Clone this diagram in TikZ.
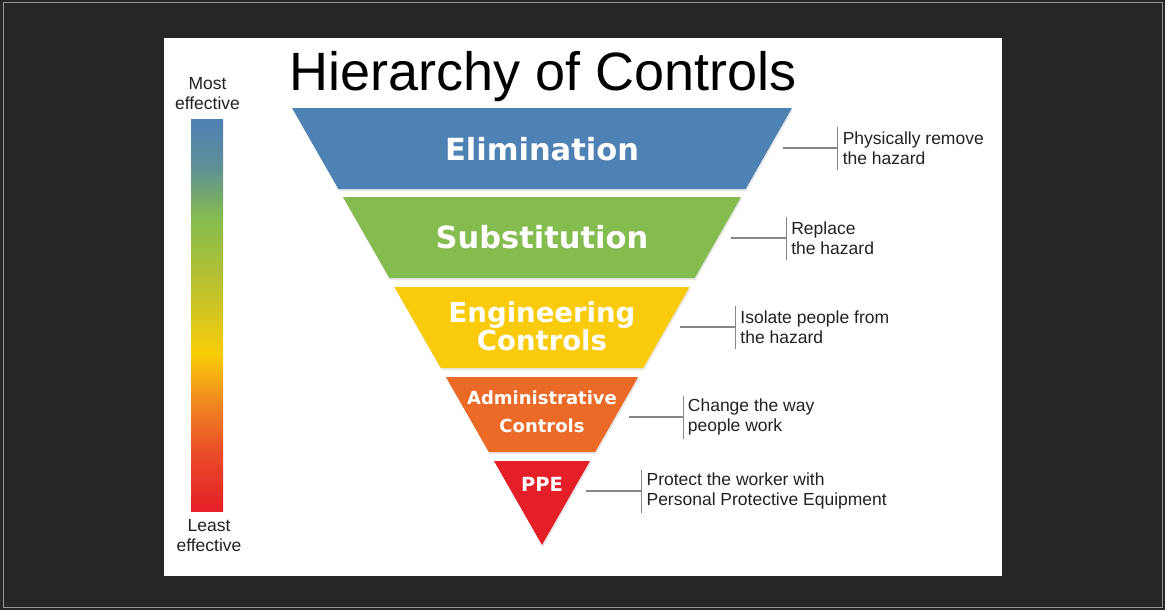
\documentclass[tikz,border=0pt]{standalone}
\usepackage{fontspec}
\setmainfont{Liberation Sans}
\newfontfamily\bandfont{DejaVu Sans}
\usetikzlibrary{shadows}
\definecolor{framedark}{RGB}{38,38,38}
\definecolor{framegrey}{RGB}{150,150,150}
\definecolor{elimblue}{RGB}{78,129,180}
\definecolor{substgreen}{RGB}{132,188,80}
\definecolor{enggold}{RGB}{249,203,10}
\definecolor{adminorange}{RGB}{235,106,40}
\definecolor{ppered}{RGB}{229,31,39}
\definecolor{barteal}{RGB}{95,143,149}
\definecolor{barolive}{RGB}{196,194,42}
\definecolor{baryellow}{RGB}{249,205,8}
\definecolor{barorange}{RGB}{240,138,32}
\definecolor{barred}{RGB}{234,76,42}
\definecolor{guidegrey}{RGB}{135,135,135}
\definecolor{inkgrey}{RGB}{34,34,34}
\pgfdeclareverticalshading{effbar}{100bp}{color(0bp)=(ppered); color(25bp)=(ppered); color(32.5bp)=(barred); color(39bp)=(barorange); color(45bp)=(baryellow); color(52.5bp)=(barolive); color(62.5bp)=(substgreen); color(69bp)=(barteal); color(75bp)=(elimblue); color(100bp)=(elimblue)}
\tikzset{
    band/.style={drop shadow={opacity=0.18, shadow xshift=1pt, shadow yshift=-2pt}},
    bandtext/.style={text=white, align=center, inner sep=0pt, font=\bandfont\bfseries\fontsize{#1}{28}\selectfont},
    note/.style={anchor=west, align=left, inner sep=0pt, text=inkgrey, font=\fontsize{17.5}{20.5}\selectfont},
    sidenote/.style={align=center, inner sep=0pt, text=inkgrey, font=\fontsize{17.5}{20}\selectfont},
    guide/.style={draw=guidegrey, line width=1.2pt}
}
\begin{document}
\begin{tikzpicture}[x=1pt, y=-1pt]
                    \useasboundingbox (0,0) rectangle (1165,610);
                    \fill[framedark] (0,0) rectangle (1165,610);
                    \draw[framegrey, line width=1pt] (3,3) rectangle (1162,607);
                    \fill[white] (164,38) rectangle (1002,576);

                    \node[anchor=base west, inner sep=0pt, font=\fontsize{54}{60}\selectfont] (title) at (289,90) {Hierarchy of Controls};

                    \shade[shading=effbar] (191,119) rectangle (223,511);
                    \node[sidenote] (most)  at (207.5,94) {Most\\effective};
                    \node[sidenote] (least) at (209,536)  {Least\\effective};

                    \foreach \nm/\yt/\yb/\col in {elim/108/189/elimblue, subst/197/278/substgreen, eng/287/368/enggold, admin/377/452/adminorange}
                        \fill[band, \col] ({542-0.572*(545-\yt)},\yt) -- ({542+0.572*(545-\yt)},\yt)
                            -- ({542+0.572*(545-\yb)},\yb) -- ({542-0.572*(545-\yb)},\yb) -- cycle;
                    \fill[band, ppered] (494,461) -- (590,461) -- (542,545) -- cycle;

                    \node[bandtext=30.5] (elim)  at (542,149) {Elimination};
                    \node[bandtext=30.5] (subst) at (542,237) {Substitution};
                    \node[bandtext=27.5] (eng)   at (542,326) {Engineering\\Controls};
                    \node[bandtext=18]   (admin) at (542,411.5) {Administrative\\Controls};
                    \node[bandtext=19.5] (ppe)   at (542,484.5) {PPE};

                    \foreach \nm/\ly in {elim/148, subst/238, eng/327, admin/417, ppe/491} {
                        \coordinate (\nm-a) at ({542+0.572*(545-\ly)+13.5},\ly);
                        \coordinate (\nm-b) at ({542+0.572*(545-\ly)+68.5},\ly);
                        \draw[guide] (\nm-a) -- (\nm-b);
                        \draw[guide] ([yshift=21.5pt]\nm-b) -- ([yshift=-21.5pt]\nm-b);
                    }

                    \node[note] (elimnote)  at ([xshift=5pt]elim-b)  {Physically remove\\the hazard};
                    \node[note] (substnote) at ([xshift=5pt]subst-b) {Replace\\the hazard};
                    \node[note] (engnote)   at ([xshift=5pt]eng-b)   {Isolate people from\\the hazard};
                    \node[note] (adminnote) at ([xshift=4pt]admin-b) {Change the way\\people work};
                    \node[note] (ppenote)   at ([xshift=5pt]ppe-b)   {Protect the worker with\\Personal Protective Equipment};
                \end{tikzpicture}
\end{document}
